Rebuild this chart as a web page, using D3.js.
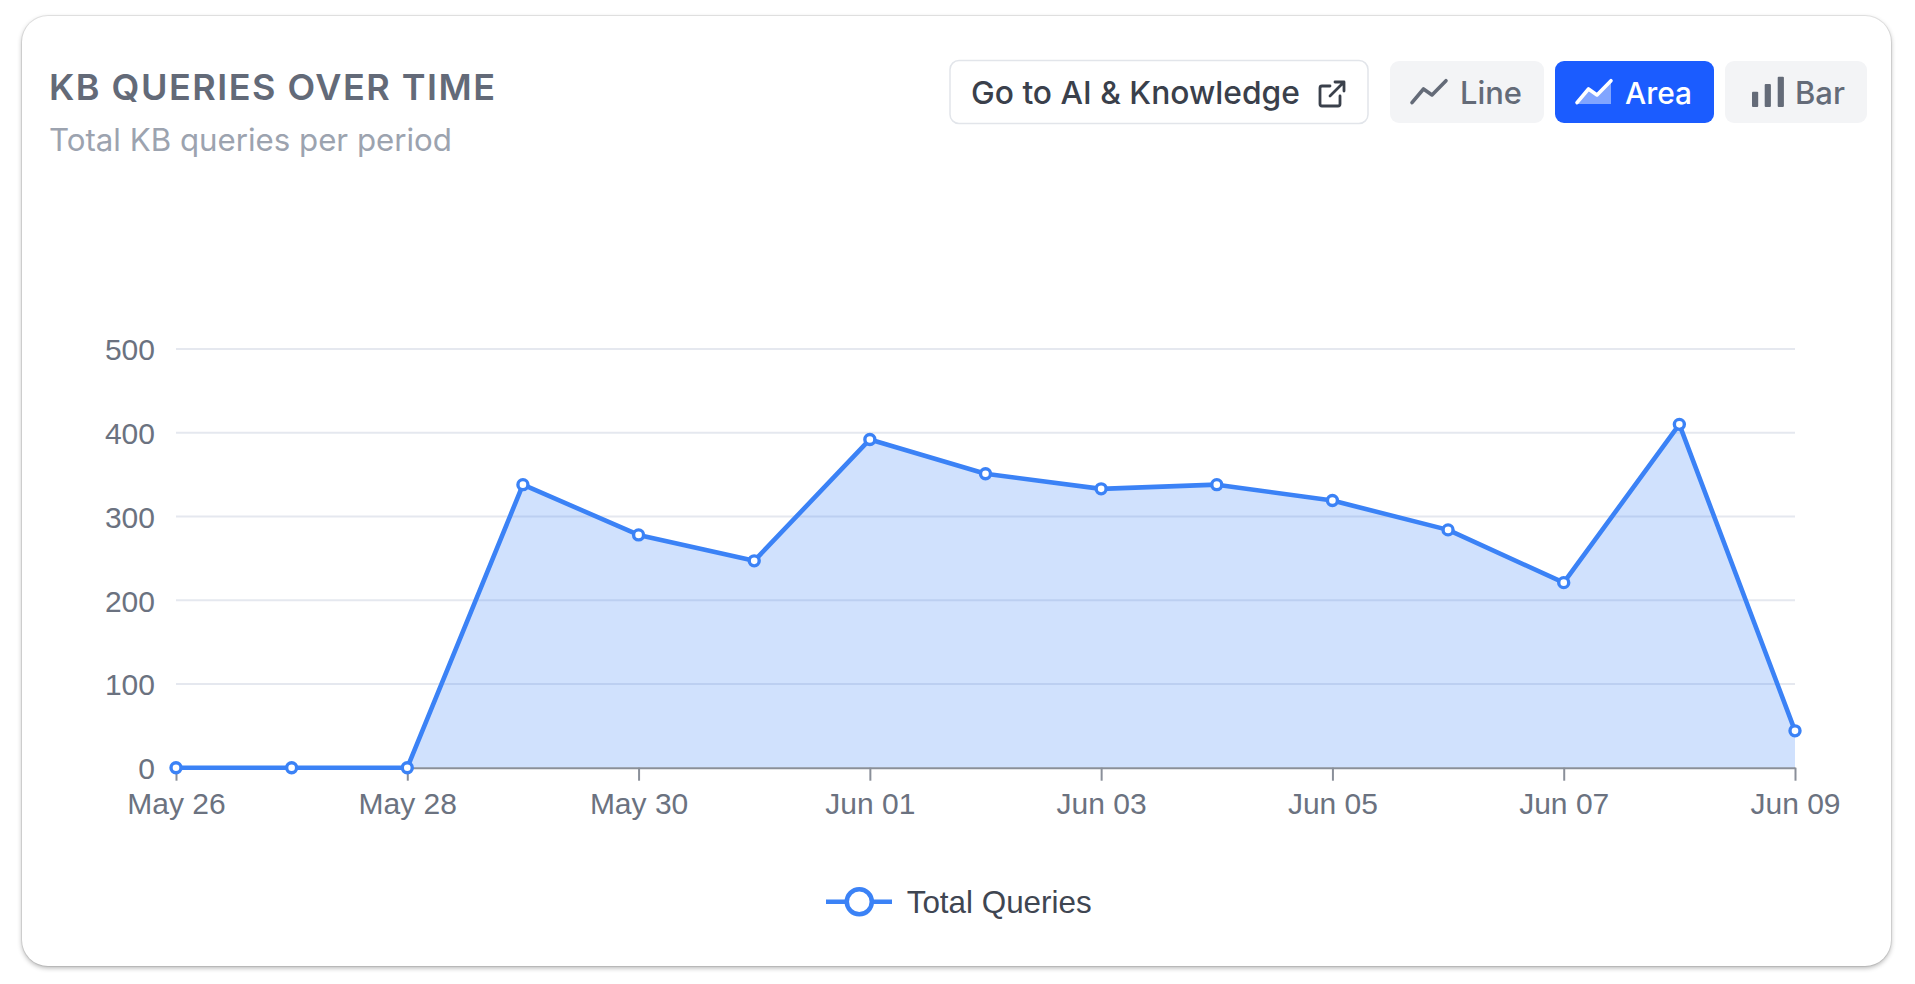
<!DOCTYPE html>
<html>
<head>
<meta charset="utf-8">
<script src="https://cdn.jsdelivr.net/npm/d3@7/dist/d3.min.js"></script>
<style>
  html, body { margin: 0; padding: 0; background: #ffffff; }
  body { width: 1915px; height: 984px; position: relative; overflow: hidden; }
  #card {
    position: absolute; left: 22px; top: 16px; width: 1869px; height: 950px;
    background: #fff; border-radius: 26px;
    box-shadow: 0 2px 5px rgba(0,0,0,0.3), 0 0 0 1px rgba(0,0,0,0.08);
  }
  svg { position: absolute; left: 0; top: 0; }
</style>
</head>
<body>
<div id="card"></div>
<svg id="chart" width="1915" height="984"></svg>
<script>
// ---------- data ----------
const dates = ["2025-05-26","2025-05-27","2025-05-28","2025-05-29","2025-05-30","2025-05-31","2025-06-01",
               "2025-06-02","2025-06-03","2025-06-04","2025-06-05","2025-06-06","2025-06-07","2025-06-08","2025-06-09"];
const totalQueries = [0, 0, 0, 338, 278, 247, 392, 351, 333, 338, 319, 284, 221, 410, 44];
const xTickDates = ["2025-05-26","2025-05-28","2025-05-30","2025-06-01","2025-06-03","2025-06-05","2025-06-07","2025-06-09"];
const yTickValues = [0, 100, 200, 300, 400, 500];
const seriesName = "Total Queries";
const titleText = "KB QUERIES OVER TIME";
const subtitleText = "Total KB queries per period";
const linkButtonText = "Go to AI & Knowledge";
const chartTypes = ["Line", "Area", "Bar"];
const activeType = "Area";

// ---------- setup ----------
const parse = d3.timeParse("%Y-%m-%d");
const data = dates.map((d, i) => ({ date: parse(d), value: totalQueries[i] }));
const svg = d3.select("#chart");
const blue = "#3b82f6";
const axisFont = "'Liberation Sans', Arial, Helvetica, sans-serif";
const uiFont = "Inter, 'Noto Sans', sans-serif";

function fitWidth(sel, target) {
  const w = sel.node().getComputedTextLength();
  const fs = parseFloat(sel.attr("font-size"));
  sel.attr("font-size", (fs * target / w).toFixed(2));
}

// ---------- header ----------
const title = svg.append("text")
  .attr("x", 49).attr("y", 99.5)
  .attr("font-family", uiFont).attr("font-weight", 600).attr("font-size", 36)
  .attr("fill", "#636a78").text(titleText);
{
  const w = title.node().getComputedTextLength();
  const ls = (446 - w) / (titleText.length - 1);
  title.attr("letter-spacing", ls.toFixed(2));
}
const sub = svg.append("text")
  .attr("x", 49).attr("y", 150.5)
  .attr("font-family", uiFont).attr("font-weight", 400).attr("font-size", 30)
  .attr("fill", "#9ca3af").text(subtitleText);
fitWidth(sub, 403);

// link button
const btnY = 61, btnH = 62, textBase = 104;
svg.append("rect").attr("x", 950).attr("y", btnY - 0.5).attr("width", 418).attr("height", btnH + 1)
  .attr("rx", 9).attr("fill", "#fff").attr("stroke", "#e2e5ea").attr("stroke-width", 1.5);
const goT = svg.append("text").attr("x", 971).attr("y", textBase)
  .attr("font-family", uiFont).attr("font-weight", 500).attr("font-size", 31)
  .attr("fill", "#3a404b").text(linkButtonText);
fitWidth(goT, 329);
// external link icon
const ext = svg.append("g").attr("fill", "none").attr("stroke", "#3a404b")
  .attr("stroke-width", 2.8).attr("stroke-linecap", "round").attr("stroke-linejoin", "round");
ext.append("path").attr("d", "M1330,86 H1322 Q1320,86 1320,88 V104 Q1320,106 1322,106 H1338 Q1340,106 1340,104 V96");
ext.append("path").attr("d", "M1330,96 L1344,82 M1335,82 H1344 V91");

// chart type buttons
const btns = [
  { name: "Line", x: 1390, w: 154, tx: 1460, tw: 62 },
  { name: "Area", x: 1555, w: 159, tx: 1625, tw: 67 },
  { name: "Bar",  x: 1725, w: 142, tx: 1795, tw: 50 }
];
btns.forEach(b => {
  const active = b.name === activeType;
  const fg = active ? "#ffffff" : "#646b78";
  svg.append("rect").attr("x", b.x).attr("y", btnY).attr("width", b.w).attr("height", btnH)
    .attr("rx", 9).attr("fill", active ? "#1b5cff" : "#f3f4f6");
  const t = svg.append("text").attr("x", b.tx).attr("y", textBase)
    .attr("font-family", uiFont).attr("font-weight", 500).attr("font-size", 31)
    .attr("fill", fg).text(b.name);
  fitWidth(t, b.tw);
  const ix = b.x + 22;
  if (b.name === "Bar") {
    const g = svg.append("g").attr("fill", fg);
    [[0, 15.3], [12.7, 23], [25.7, 30.3]].forEach(([dx, h]) => {
      g.append("rect").attr("x", b.x + 27 + dx).attr("y", 107 - h).attr("width", 6.2).attr("height", h).attr("rx", 1);
    });
  } else {
    const pts = [[ix, 102.7], [ix + 11.5, 89], [ix + 20, 95], [ix + 34, 80.7]];
    if (b.name === "Area") {
      svg.append("path")
        .attr("d", "M" + pts.map(p => p.join(",")).join(" L") + ` L${ix + 34},104 L${ix},104 Z`)
        .attr("fill", "rgba(255,255,255,0.45)");
    }
    svg.append("polyline").attr("points", pts.map(p => p.join(",")).join(" "))
      .attr("fill", "none").attr("stroke", fg).attr("stroke-width", 3.6)
      .attr("stroke-linecap", "round").attr("stroke-linejoin", "round");
  }
});

// ---------- scales ----------
const x = d3.scaleTime().domain([parse(dates[0]), parse(dates[dates.length - 1])]).range([176, 1795]);
const y = d3.scaleLinear().domain([0, 500]).range([767.7, 349]);

// grid
svg.append("g").selectAll("line").data(yTickValues.filter(v => v > 0)).join("line")
  .attr("x1", x.range()[0]).attr("x2", x.range()[1])
  .attr("y1", d => y(d)).attr("y2", d => y(d))
  .attr("stroke", "#e5e8ef").attr("stroke-width", 2);

// y axis labels
const yAxis = svg.append("g").attr("transform", `translate(${x.range()[0]},0)`)
  .call(d3.axisLeft(y).tickValues(yTickValues).tickSize(0).tickPadding(21));
yAxis.select(".domain").remove();
yAxis.selectAll("text").attr("font-family", axisFont).attr("font-size", 30).attr("fill", "#6b7280")
  .attr("dy", "0.36em");

// area + line
const area = d3.area().x(d => x(d.date)).y0(y(0)).y1(d => y(d.value));
const line = d3.line().x(d => x(d.date)).y(d => y(d.value));
svg.append("path").datum(data).attr("d", area).attr("fill", "rgba(59,130,246,0.24)");

// x axis
const xAxis = svg.append("g").attr("transform", `translate(0,${y(0)})`)
  .call(d3.axisBottom(x).tickValues(xTickDates.map(parse)).tickFormat(d3.timeFormat("%b %d"))
    .tickSize(13).tickSizeOuter(0).tickPadding(12));
xAxis.select(".domain").attr("stroke", "#8a8f99").attr("stroke-width", 2);
xAxis.selectAll(".tick line").attr("stroke", "#8a8f99").attr("stroke-width", 2);
xAxis.selectAll("text").attr("font-family", axisFont).attr("font-size", 30).attr("fill", "#6b7280")
  .attr("dy", "0.71em");

svg.append("path").datum(data).attr("d", line)
  .attr("fill", "none").attr("stroke", blue).attr("stroke-width", 4.6)
  .attr("stroke-linejoin", "round").attr("stroke-linecap", "round");

svg.append("g").selectAll("circle").data(data).join("circle")
  .attr("cx", d => x(d.date)).attr("cy", d => y(d.value)).attr("r", 5)
  .attr("fill", "#fff").attr("stroke", blue).attr("stroke-width", 3.4);

// ---------- legend ----------
const lg = svg.append("g");
lg.append("line").attr("x1", 826).attr("x2", 892).attr("y1", 901.7).attr("y2", 901.7)
  .attr("stroke", blue).attr("stroke-width", 4.5);
lg.append("circle").attr("cx", 859.3).attr("cy", 901.7).attr("r", 12.5)
  .attr("fill", "#fff").attr("stroke", blue).attr("stroke-width", 4.5);
const lt = lg.append("text").attr("x", 906.7).attr("y", 912.7)
  .attr("font-family", axisFont).attr("font-size", 31).attr("fill", "#3f4652").text(seriesName);
fitWidth(lt, 185);
</script>
</body>
</html>
